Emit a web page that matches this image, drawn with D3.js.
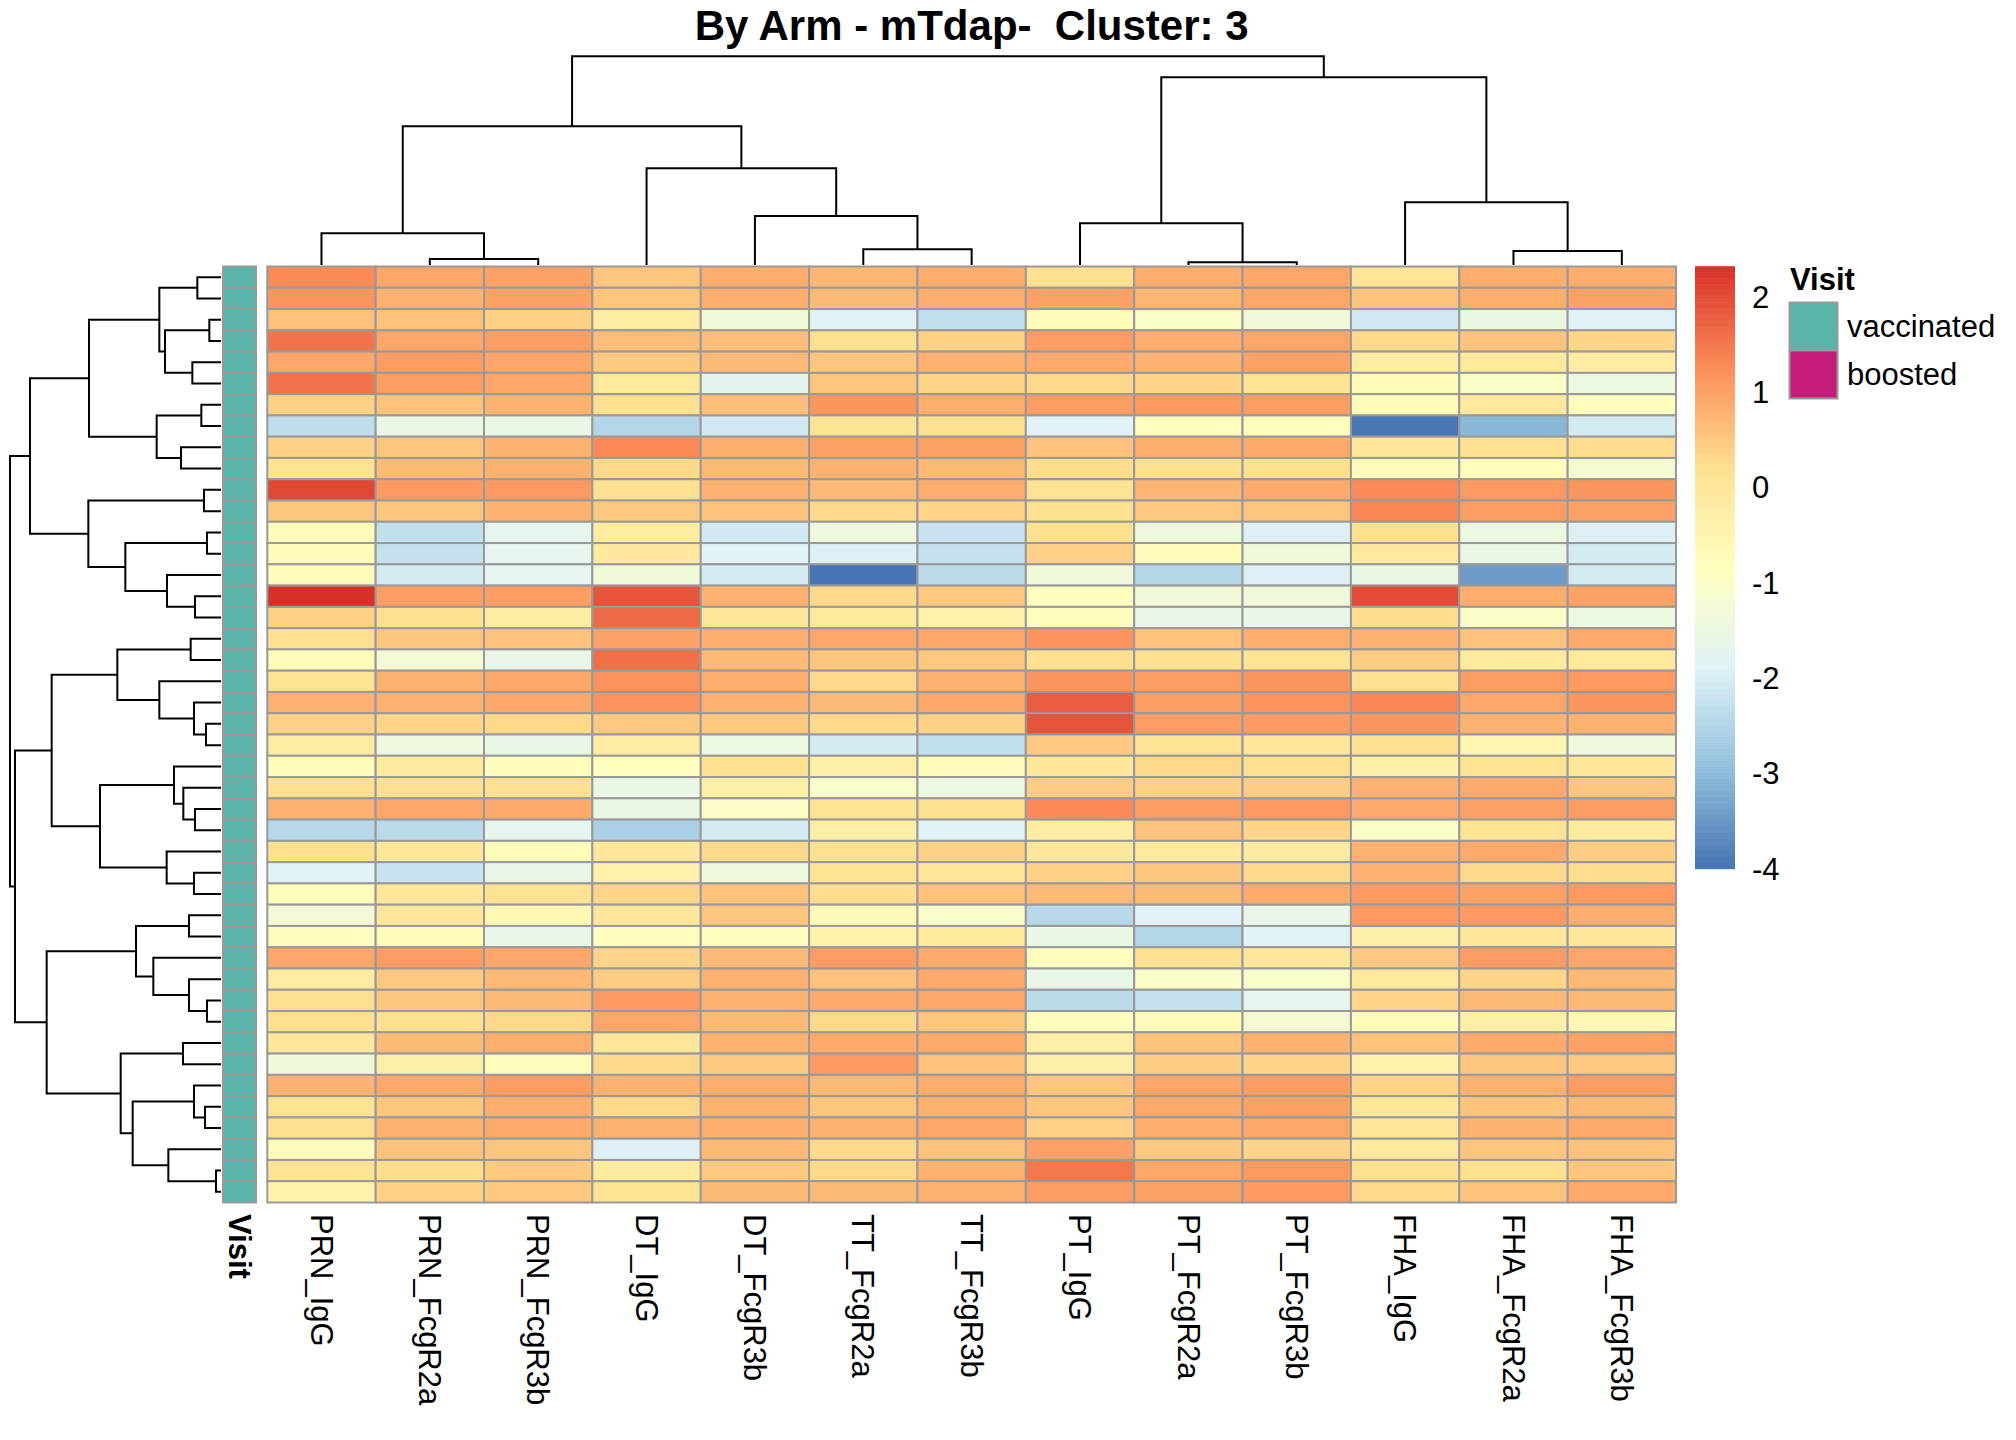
<!DOCTYPE html>
<html>
<head>
<meta charset="utf-8">
<script src="https://cdn.jsdelivr.net/npm/d3@7"></script>
<style>
  body { margin: 0; background: #fff; }
  text { font-family: "Liberation Sans", Arial, Helvetica, sans-serif; white-space: pre; }
</style>
</head>
<body>
<div id="chart"></div>
<script>
// heatmap of scaled antibody features, one row per subject
const chartTitle = "By Arm - mTdap-  Cluster: 3";

const columnNames = ["PRN_IgG", "PRN_FcgR2a", "PRN_FcgR3b", "DT_IgG", "DT_FcgR3b",
  "TT_FcgR2a", "TT_FcgR3b", "PT_IgG", "PT_FcgR2a", "PT_FcgR3b",
  "FHA_IgG", "FHA_FcgR2a", "FHA_FcgR3b"];

// rows in dendrogram order
const cellValues = [
  [1.3, 0.95, 1.0, 0.55, 0.85, 0.75, 0.85, 0.2, 0.85, 0.95, 0.05, 0.85, 0.85],
  [1.15, 0.8, 1.0, 0.55, 0.85, 0.7, 0.85, 1.0, 0.75, 0.95, 0.6, 0.85, 1.0],
  [0.6, 0.6, 0.4, -0.2, -1.3, -1.85, -2.3, -0.7, -1.0, -1.3, -2.1, -1.55, -1.85],
  [1.55, 0.95, 1.05, 0.65, 0.65, 0.2, 0.4, 1.05, 0.85, 0.95, 0.3, 0.6, 0.35],
  [0.95, 1.05, 0.95, 0.5, 0.7, 0.55, 0.8, 0.9, 0.8, 1.0, -0.2, -0.05, -0.2],
  [1.55, 1.05, 0.95, -0.05, -1.75, 0.55, 0.35, 0.3, 0.35, 0.1, -0.75, -1.0, -1.45],
  [0.4, 0.6, 0.8, 0.2, 0.65, 1.15, 0.85, 1.05, 1.1, 1.05, -0.7, -0.05, -0.8],
  [-2.35, -1.55, -1.55, -2.5, -2.1, 0.1, 0.2, -1.85, -0.8, -0.8, -3.97, -3.05, -2.05],
  [0.4, 0.55, 0.8, 1.3, 0.85, 1.0, 1.0, 0.6, 0.85, 0.9, 0.0, 0.2, 0.25],
  [0.1, 0.7, 0.8, 0.3, 0.7, 0.8, 0.7, 0.25, 0.2, 0.2, -0.75, -0.8, -1.2],
  [2.05, 1.1, 1.1, 0.2, 0.8, 0.7, 0.85, 0.15, 0.75, 0.9, 1.3, 1.1, 1.15],
  [0.55, 0.55, 0.8, 0.5, 0.6, 0.3, 0.35, 0.2, 0.5, 0.55, 1.35, 1.05, 1.0],
  [-0.7, -2.3, -1.7, -0.2, -2.1, -1.4, -2.2, 0.2, -1.4, -1.95, 0.2, -1.45, -1.95],
  [-0.7, -2.25, -1.7, -0.1, -1.85, -1.95, -2.25, 0.4, -0.75, -1.3, -0.05, -1.55, -2.05],
  [-0.7, -2.05, -1.7, -1.3, -2.05, -4.0, -2.4, -1.3, -2.5, -1.95, -1.55, -3.45, -2.05],
  [2.32, 1.05, 1.05, 1.9, 0.8, 0.3, 0.5, -0.8, -1.3, -1.3, 2.0, 0.85, 1.0],
  [0.4, 0.2, -0.2, 1.65, 0.0, -0.05, -0.4, -0.8, -1.6, -1.6, 0.25, -1.0, -1.45],
  [0.2, 0.55, 0.6, 1.0, 0.85, 0.95, 0.95, 1.2, 0.6, 0.85, 0.8, 0.6, 0.9],
  [-0.7, -1.25, -1.6, 1.6, 0.7, 0.55, 0.5, 0.2, 0.2, 0.1, 0.45, -0.15, -0.05],
  [0.1, 0.8, 0.95, 1.2, 0.85, 0.3, 0.8, 1.15, 1.05, 1.15, 0.2, 1.05, 1.1],
  [0.8, 0.8, 0.95, 1.2, 0.8, 0.7, 0.95, 1.8, 1.05, 1.2, 1.35, 0.95, 1.15],
  [0.4, 0.35, 0.3, 0.5, 0.5, 0.3, 0.4, 1.9, 1.05, 1.1, 1.15, 0.8, 0.8],
  [-0.2, -1.4, -1.6, -0.2, -1.45, -2.05, -2.3, 0.5, 0.1, 0.0, 0.2, -0.5, -1.4],
  [-0.7, -0.15, -0.75, -0.85, 0.2, -0.3, -0.75, 0.0, 0.3, 0.2, -0.3, 0.1, 0.0],
  [0.2, 0.2, 0.2, -1.55, -0.3, -1.05, -1.45, 0.45, 0.4, 0.45, 0.8, 0.9, 0.55],
  [0.8, 0.95, 0.9, -1.55, -0.95, 0.1, 0.2, 1.3, 1.05, 1.1, 0.9, 1.0, 1.05],
  [-2.45, -2.4, -1.7, -2.6, -2.05, -0.3, -1.85, -0.2, 0.6, 0.35, -1.0, 0.1, -0.15],
  [0.2, 0.0, -0.7, 0.0, 0.3, 0.2, 0.4, 0.0, -0.05, -0.15, 0.8, 0.9, 0.45],
  [-1.85, -2.2, -1.6, -0.4, -1.4, 0.1, 0.0, 0.4, 0.55, 0.3, 0.8, 0.3, 0.25],
  [-0.8, 0.0, 0.1, 0.35, 0.6, 0.25, 0.6, 0.7, 0.7, 0.9, 1.1, 1.0, 1.1],
  [-1.25, 0.0, -0.6, 0.0, 0.55, -0.65, -1.05, -2.45, -1.85, -1.6, 1.1, 1.1, 0.85],
  [-0.8, -0.7, -1.6, -0.8, -0.8, -0.4, -0.05, -1.55, -2.5, -1.85, -0.3, 0.0, 0.0],
  [0.95, 1.05, 0.95, 0.35, 0.7, 1.05, 0.9, -0.8, 0.2, 0.0, 0.5, 1.05, 0.95],
  [-0.2, 0.5, 0.7, 0.45, 0.8, 0.6, 0.9, -1.6, -1.0, -1.05, -0.05, 0.35, 0.7],
  [0.2, 0.55, 0.7, 1.1, 0.8, 0.9, 0.95, -2.4, -2.25, -1.7, 0.35, 0.7, 0.7],
  [0.2, 0.2, 0.3, 0.95, 0.7, 0.3, 0.55, -0.8, -0.75, -1.2, -0.75, -0.3, -0.6],
  [0.0, 0.7, 0.85, 0.0, 0.8, 0.9, 0.9, -0.3, 0.6, 0.8, 0.6, 0.9, 1.0],
  [-1.3, -0.3, -0.8, 0.3, 0.5, 1.1, 0.6, -0.3, 0.45, 0.35, -0.4, 0.55, 0.5],
  [0.8, 0.9, 1.05, 0.8, 0.85, 0.7, 0.85, 0.55, 0.95, 1.05, 0.35, 0.8, 1.05],
  [0.1, 0.55, 0.85, 0.3, 0.8, 0.55, 0.8, 0.55, 0.9, 1.0, 0.0, 0.6, 0.7],
  [0.2, 0.8, 0.9, 0.8, 0.85, 0.8, 0.95, 0.4, 0.85, 0.95, 0.0, 0.8, 0.9],
  [-0.7, 0.6, 0.55, -1.95, 0.7, 0.3, 0.6, 1.0, 0.5, 0.35, -0.05, 0.55, 0.6],
  [0.1, 0.25, 0.5, -0.15, 0.5, 0.3, 0.8, 1.5, 0.95, 1.1, 0.2, 0.2, 0.55],
  [-0.4, 0.4, 0.5, 0.1, 0.7, 0.7, 0.8, 1.05, 1.0, 1.1, 0.3, 0.6, 0.9]
];

// Visit annotation per row (all vaccinated here)
const rowVisit = d3.range(cellValues.length).map(() => "vaccinated");
const visitLevels = ["vaccinated", "boosted"];
const visitColors = ["#5BB4A9", "#C51B7A"];

// hclust style merges: negative = leaf (1-based), positive = earlier merge
const rowMerges = [
  [-1, -2, 71], [-3, -4, 35], [-5, -6, 86], [2, 3, 168], [1, 4, 185],
  [-7, -8, 59], [-9, -10, 120], [6, 7, 193], [5, 8, 396],
  [-11, -12, 51], [-13, -14, 42], [-16, -17, 78], [-15, 12, 162], [11, 13, 287],
  [10, 14, 398], [9, 15, 573],
  [-18, -19, 91], [-22, -23, 45], [-21, 18, 81], [-20, 19, 185], [17, 20, 311],
  [-26, -27, 78], [-25, 22, 113], [-24, 23, 141], [-29, -30, 81], [-28, 25, 163],
  [24, 26, 363], [21, 27, 508],
  [-31, -32, 96], [-35, -36, 42], [-34, 30, 96], [-33, 31, 203], [29, 32, 255],
  [-37, -38, 114], [-40, -41, 48], [-39, 35, 81], [-43, -44, 15], [-42, 37, 158],
  [36, 38, 265], [34, 39, 301], [33, 40, 523], [28, 41, 618], [16, 42, 633]
];

const colMerges = [
  [-2, -3, 18], [-1, 1, 95], [-6, -7, 47], [-5, 3, 147], [-4, 4, 290],
  [2, 5, 416], [-9, -10, 8], [-8, 7, 125], [-12, -13, 42], [-11, 9, 188],
  [8, 10, 563], [6, 11, 626]
];

const legendTicks = [2, 1, 0, -1, -2, -3, -4];
// rev(brewer.pal(7, "RdYlBu"))
const palette = ["#4575B4", "#91BFDB", "#E0F3F8", "#FFFFBF", "#FEE090", "#FC8D59", "#D73027"];

const width = 2016, height = 1440;
const fontSize = 31;
const borderColor = "#999999";

const svg = d3.select("#chart").append("svg")
  .attr("width", width)
  .attr("height", height)
  .attr("viewBox", "0 0 " + width + " " + height);

// scales
const x = d3.scaleBand().domain(d3.range(columnNames.length)).range([267.3, 1676]);
const y = d3.scaleBand().domain(d3.range(cellValues.length)).range([266.5, 1202.5]);
const vMin = d3.min(cellValues, r => d3.min(r));
const vMax = d3.max(cellValues, r => d3.max(r));
const color = d3.scaleLinear()
  .domain(palette.map((c, i) => vMin + i * (vMax - vMin) / (palette.length - 1)))
  .range(palette)
  .interpolate(d3.interpolateRgb);
const visitColor = d3.scaleOrdinal().domain(visitLevels).range(visitColors);

// title
svg.append("text")
  .attr("x", (x.range()[0] + x.range()[1]) / 2)
  .attr("y", 40)
  .attr("text-anchor", "middle")
  .attr("font-weight", "bold")
  .attr("font-size", 42)
  .text(chartTitle);

// turn merges into elbow segments
function mergeSegments(merges, leafPos) {
  let nodes = [];
  let segs = [];
  let get = id => id < 0 ? { pos: leafPos(-id - 1), h: 0 } : nodes[id - 1];
  for (let m of merges) {
    let a = get(m[0]), b = get(m[1]);
    segs.push({ a: a, b: b, h: m[2] });
    nodes.push({ pos: (a.pos + b.pos) / 2, h: m[2] });
  }
  return segs;
}

// column dendrogram on top
let colH = d3.scaleLinear().domain([0, d3.max(colMerges, m => m[2])]).range([265, 56.3]);
let colSegs = mergeSegments(colMerges, i => x(i) + x.bandwidth() / 2);
svg.append("g").selectAll("path")
  .data(colSegs).enter().append("path")
  .attr("d", d => "M" + d.a.pos + "," + colH(d.a.h) + "V" + colH(d.h)
    + "H" + d.b.pos + "V" + colH(d.b.h))
  .attr("fill", "none")
  .attr("stroke", "black")
  .attr("stroke-width", 2);

// row dendrogram on the left
let rowH = d3.scaleLinear().domain([0, d3.max(rowMerges, m => m[2])]).range([221, 10]);
let rowSegs = mergeSegments(rowMerges, i => y(i) + y.bandwidth() / 2);
svg.append("g").selectAll("path")
  .data(rowSegs).enter().append("path")
  .attr("d", d => "M" + rowH(d.a.h) + "," + d.a.pos + "H" + rowH(d.h)
    + "V" + d.b.pos + "H" + rowH(d.b.h))
  .attr("fill", "none")
  .attr("stroke", "black")
  .attr("stroke-width", 2);

// annotation column
const annX = 223, annW = 33;
svg.append("g").selectAll("rect")
  .data(rowVisit).enter().append("rect")
  .attr("x", annX)
  .attr("y", (d, i) => y(i))
  .attr("width", annW)
  .attr("height", y.bandwidth())
  .attr("fill", d => visitColor(d))
  .attr("stroke", borderColor)
  .attr("stroke-width", 2);

// heatmap cells
let cells = [];
cellValues.forEach((row, r) => row.forEach((v, c) => cells.push({ r: r, c: c, v: v })));
svg.append("g").selectAll("rect")
  .data(cells).enter().append("rect")
  .attr("x", d => x(d.c))
  .attr("y", d => y(d.r))
  .attr("width", x.bandwidth())
  .attr("height", y.bandwidth())
  .attr("fill", d => color(d.v))
  .attr("stroke", borderColor)
  .attr("stroke-width", 2);

// column labels, rotated
const labelTop = 1214;
svg.append("g").selectAll("text")
  .data(columnNames).enter().append("text")
  .attr("transform", (d, i) => "translate(" + (x(i) + x.bandwidth() / 2) + "," + labelTop + ") rotate(90)")
  .attr("dy", "0.35em")
  .attr("font-size", fontSize)
  .text(d => d);

svg.append("text")
  .attr("transform", "translate(" + (annX + annW / 2) + "," + labelTop + ") rotate(90)")
  .attr("dy", "0.35em")
  .attr("font-size", fontSize)
  .attr("font-weight", "bold")
  .text("Visit");

// colour legend
let ly = d3.scaleLinear().domain([vMin, vMax]).range([868.7, 266.2]);
let steps = d3.range(100).map(i => vMin + (i + 0.5) * (vMax - vMin) / 100);
let stepH = (ly.range()[0] - ly.range()[1]) / 100;
svg.append("g").selectAll("rect")
  .data(steps).enter().append("rect")
  .attr("x", 1695)
  .attr("y", d => ly(d) - stepH / 2)
  .attr("width", 40)
  .attr("height", stepH + 0.5)
  .attr("fill", d => color(d));
svg.append("g").selectAll("text")
  .data(legendTicks).enter().append("text")
  .attr("x", 1752)
  .attr("y", d => ly(d))
  .attr("dy", "0.35em")
  .attr("font-size", fontSize)
  .text(d => d);

// Visit legend
svg.append("text")
  .attr("x", 1790)
  .attr("y", 290)
  .attr("font-size", fontSize)
  .attr("font-weight", "bold")
  .text("Visit");
let boxH = 48;
let vis = svg.append("g").selectAll("g")
  .data(visitLevels).enter().append("g");
vis.append("rect")
  .attr("x", 1789.5)
  .attr("y", (d, i) => 302.5 + i * boxH)
  .attr("width", 48)
  .attr("height", boxH)
  .attr("fill", d => visitColor(d))
  .attr("stroke", borderColor)
  .attr("stroke-width", 2);
vis.append("text")
  .attr("x", 1847)
  .attr("y", (d, i) => 302.5 + (i + 0.5) * boxH)
  .attr("dy", "0.35em")
  .attr("font-size", fontSize)
  .text(d => d);
</script>
</body>
</html>
